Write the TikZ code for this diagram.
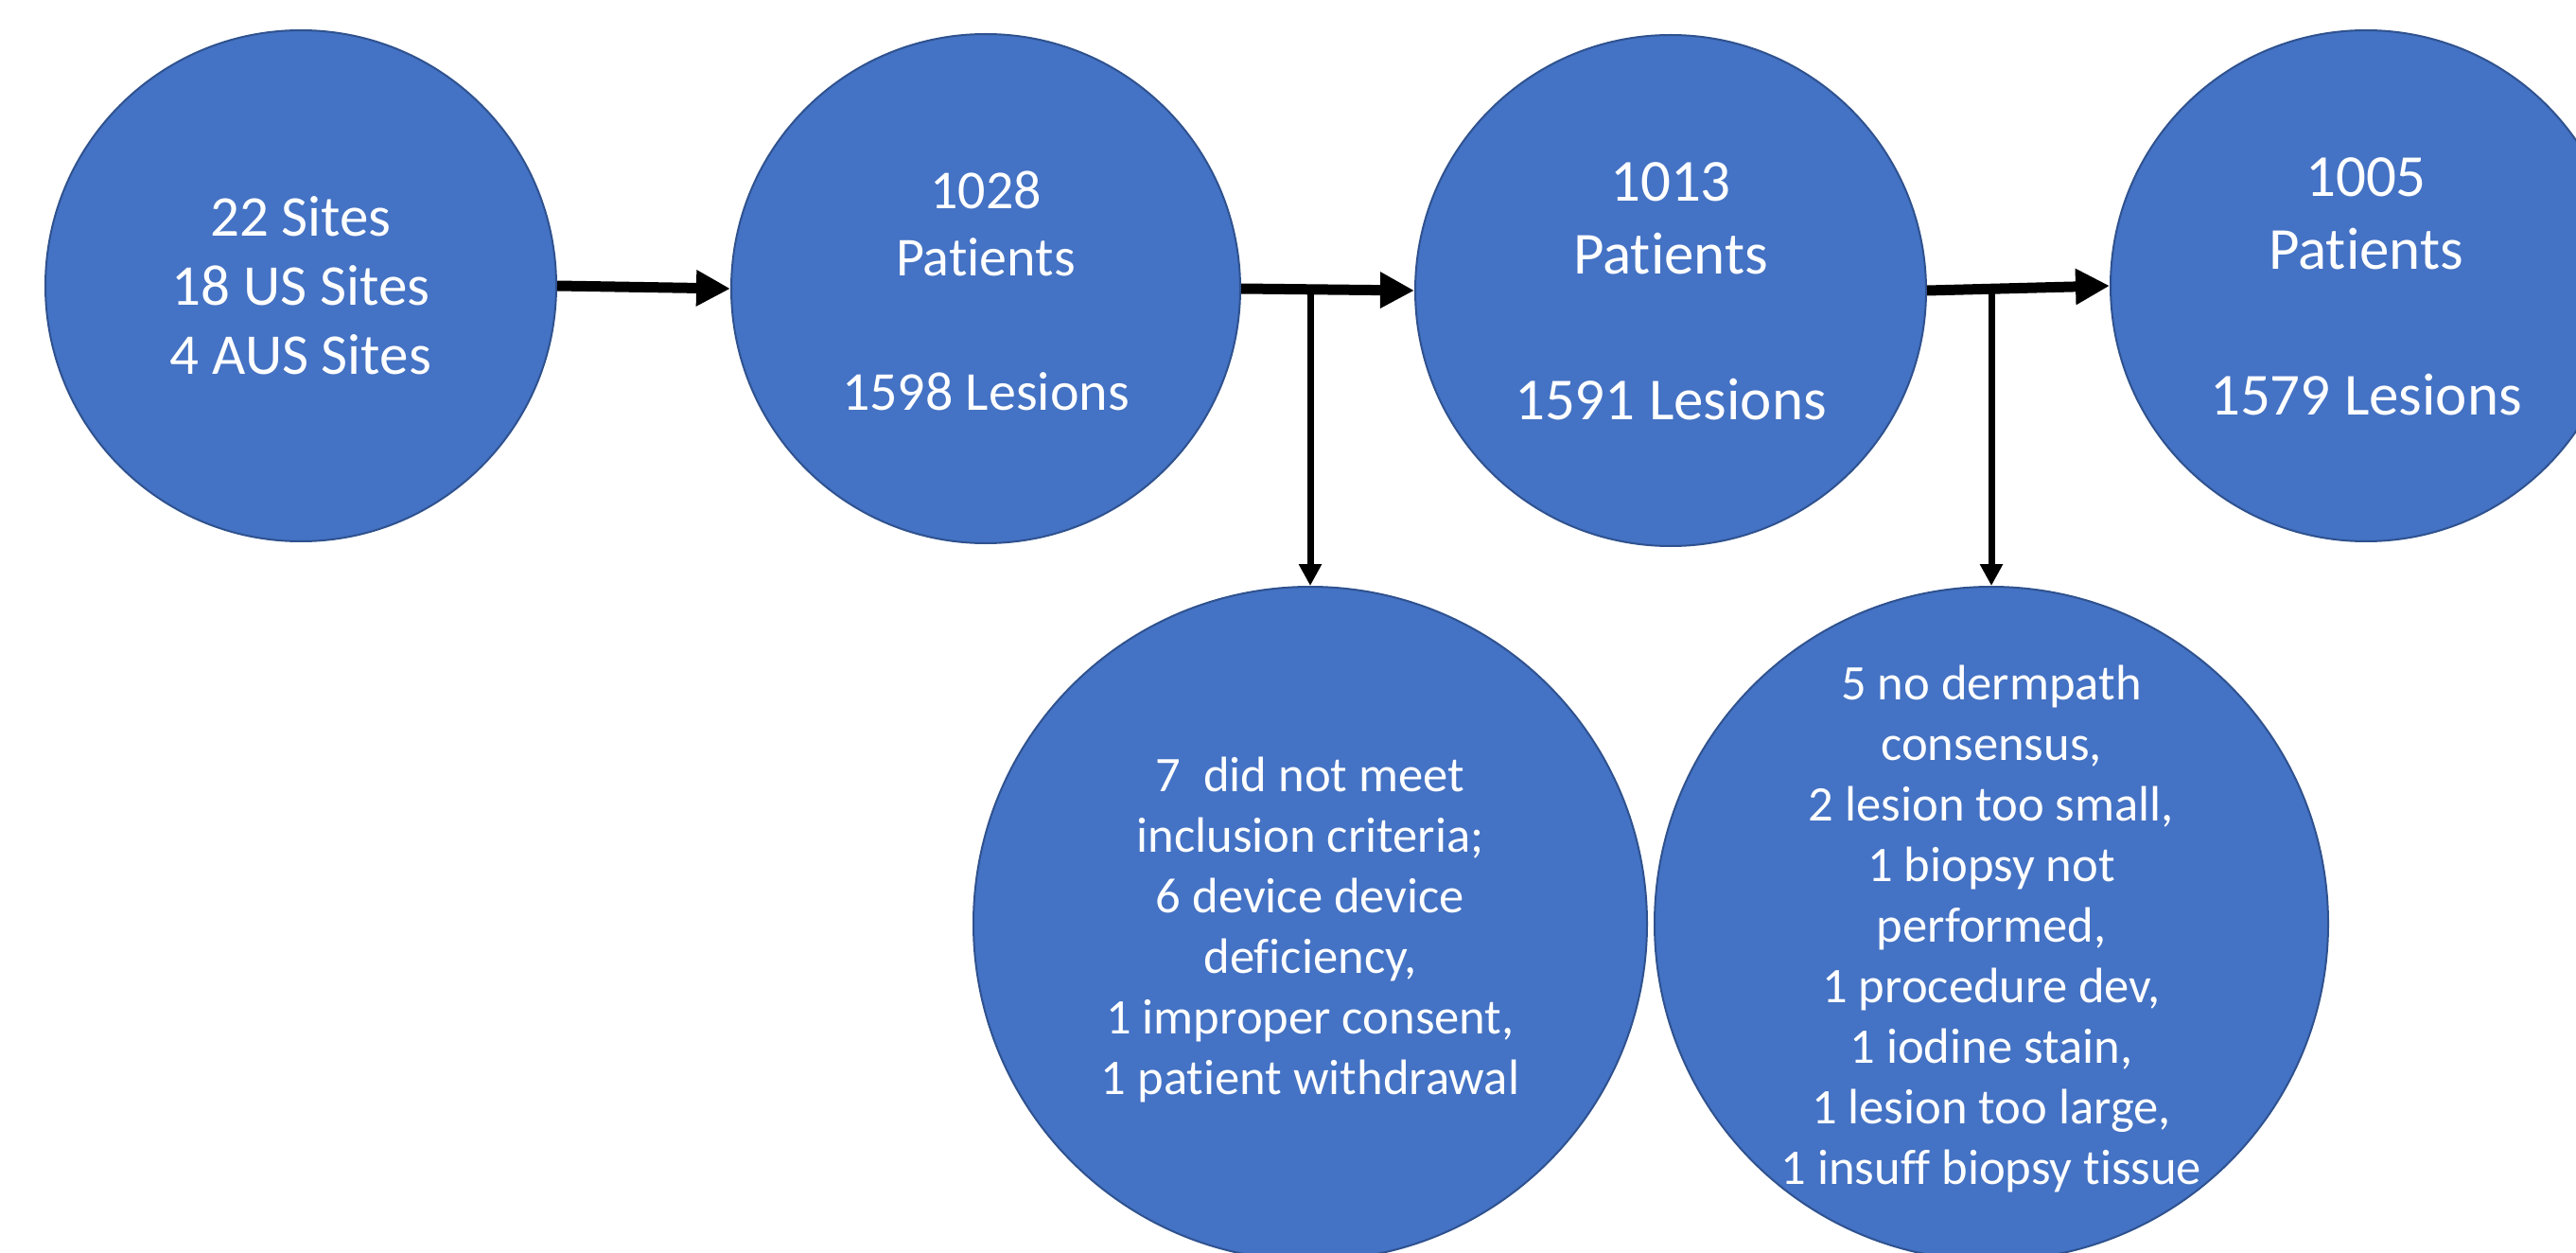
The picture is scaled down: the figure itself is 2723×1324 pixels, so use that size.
\documentclass[tikz,border=0pt]{standalone}
\usepackage{fontspec}
\setmainfont[Ligatures={NoCommon,NoRare}]{Carlito}
\usetikzlibrary{arrows.meta}
\definecolor{cfill}{HTML}{4472C4}
\definecolor{cline}{HTML}{2F528F}
\tikzset{
  circ/.style={circle, fill=cfill, draw=cline, line width=2pt, inner sep=0pt},
  txt/.style={text=white, align=center, inner sep=0pt},
  harrow/.style={line width=11pt, -{Triangle[length=36pt,width=36pt]}},
  varrow/.style={line width=7pt, -{Triangle[length=23pt,width=23pt]}}
}
\begin{document}
\begin{tikzpicture}[x=1pt,y=-1pt]
\useasboundingbox (0,0) rectangle (2723,1324);
\node[circ, minimum size=540pt] (C1) at (318,302) {};
\node[circ, minimum size=538pt] (C2) at (1042,305) {};
\node[circ, minimum size=540pt] (C3) at (1766,307) {};
\node[circ, minimum size=540pt] (C4) at (2501,302) {};
\node[circ, minimum size=712pt] (C5) at (1385,976) {};
\node[circ, minimum size=712pt] (C6) at (2105,976) {};

\node[txt, font=\fontsize{61}{73}\selectfont] (T1) at (C1.center) {22 Sites\\18 US Sites\\4 AUS Sites};
\node[txt, font=\fontsize{58}{71}\selectfont] (T2) at ([yshift=-2pt]C2.center) {1028\\Patients\\[71pt]1598 Lesions};
\node[txt, font=\fontsize{63}{77}\selectfont] (T3) at ([yshift=-1pt]C3.center) {1013\\Patients\\[77pt]1591 Lesions};
\node[txt, font=\fontsize{63}{77}\selectfont] (T4) at ([yshift=-1pt]C4.center) {1005\\Patients\\[77pt]1579 Lesions};
\node[txt, font=\fontsize{52.6}{64}\selectfont] (T5) at ([yshift=-6pt]C5.center) {7\ \ did not meet\\inclusion criteria;\\6 device device\\deficiency,\\1 improper consent,\\1 patient withdrawal};
\node[txt, font=\fontsize{52.6}{64}\selectfont] (T6) at ([yshift=-5pt]C6.center) {5 no dermpath\\consensus,\\2 lesion too small,\\1 biopsy not\\performed,\\1 procedure dev,\\1 iodine stain,\\1 lesion too large,\\1 insuff biopsy tissue};

\draw[harrow] (C1.east) -- (C2.west);
\draw[harrow] (C2.east) -- (C3.west);
\draw[harrow] (C3.east) -- (C4.west);
\draw[varrow] (C5.north |- C2.east) -- (C5.north);
\draw[varrow] (C6.north |- C3.east) -- (C6.north);
\end{tikzpicture}
\end{document}
